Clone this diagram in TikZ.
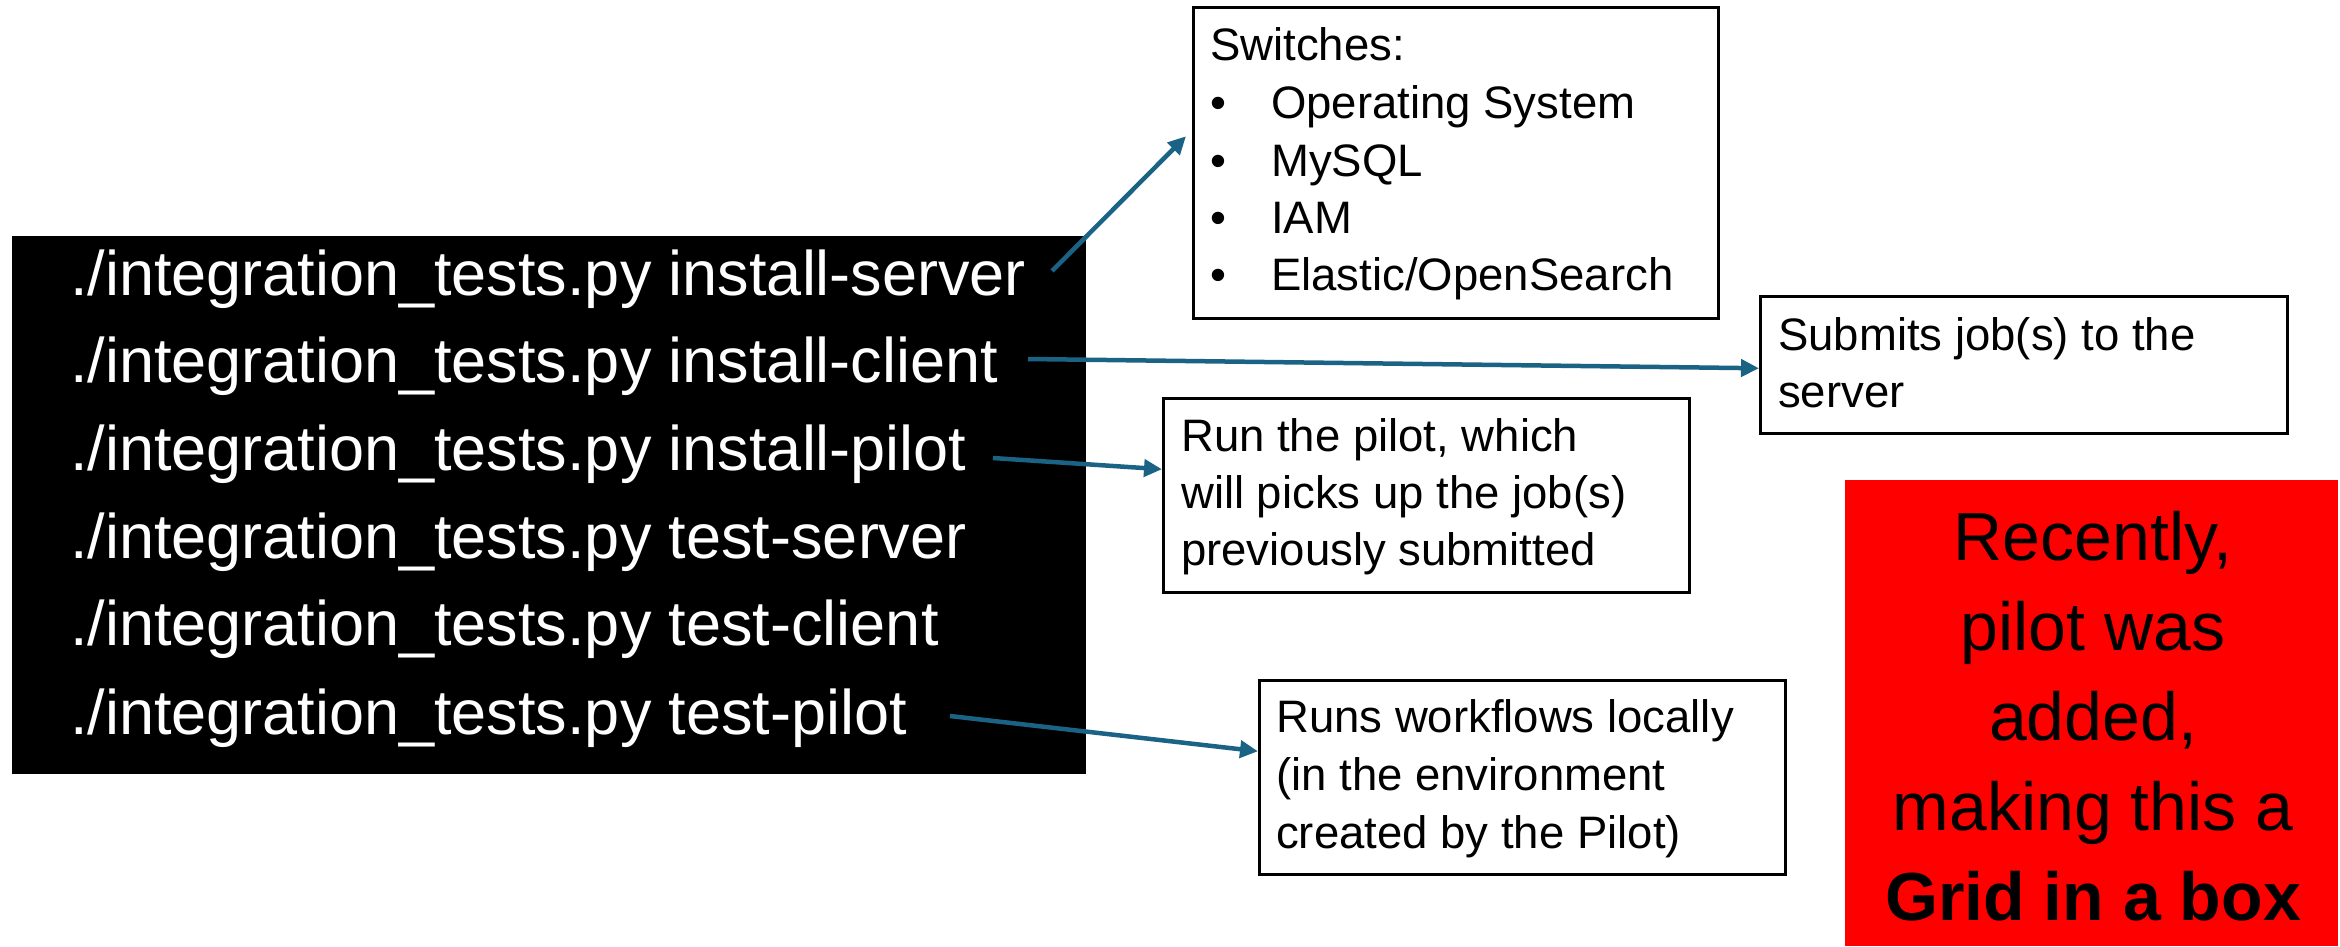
\documentclass[tikz,border=0pt]{standalone}
\usepackage{fontspec}
\setmainfont{Liberation Sans}
\usetikzlibrary{arrows.meta}
\definecolor{arrowblue}{RGB}{26,99,133}
\begin{document}
\begin{tikzpicture}[x=1pt,y=-1pt,
  cmd/.style={text=white,font=\fontsize{63}{70}\selectfont,anchor=base west,inner sep=0pt},
  note/.style={font=\fontsize{45.5}{54}\selectfont,anchor=base west,inner sep=0pt},
  notebox/.style={draw=black,line width=2.5pt,inner sep=0pt,anchor=north west},
  conn/.style={draw=arrowblue,line width=4.5pt,-{Triangle[length=18pt,width=17pt]}},
  big/.style={font=\fontsize{68}{80}\selectfont,anchor=base,inner sep=0pt}]
\useasboundingbox (0,0) rectangle (2340,946);
% command panel
\node[fill=black,inner sep=0pt,minimum width=1074pt,minimum height=538pt,anchor=north west] (cmdbox) at (12,236) {};
\node[cmd] (l1) at (70,295) {./integration\_tests.py install-server};
\node[cmd] (l2) at (70,382) {./integration\_tests.py install-client};
\node[cmd] (l3) at (70,470) {./integration\_tests.py install-pilot};
\node[cmd] (l4) at (70,558) {./integration\_tests.py test-server};
\node[cmd] (l5) at (70,645) {./integration\_tests.py test-client};
\node[cmd] (l6) at (70,734) {./integration\_tests.py test-pilot};
% note boxes
\node[notebox,minimum width=525pt,minimum height=311pt] (sw) at (1192,6) {};
\node[note] (swt) at (1210,60) {Switches:};
\node[note] (b1) at (1210,118) {•};
\node[note] (i1) at (1271,118) {Operating System};
\node[note] (b2) at (1210,176) {•};
\node[note] (i2) at (1271,176) {MySQL};
\node[note] (b3) at (1210,233) {•};
\node[note] (i3) at (1271,233) {IAM};
\node[note] (b4) at (1210,290) {•};
\node[note] (i4) at (1271,290) {Elastic/OpenSearch};

\node[notebox,minimum width=527pt,minimum height=137pt] (sub) at (1759,295) {};
\node[note] (subt1) at (1778,350) {Submits job(s) to the};
\node[note] (subt2) at (1778,407) {server};

\node[notebox,minimum width=526pt,minimum height=194pt] (run) at (1162,397) {};
\node[note] (runt1) at (1181,451) {Run the pilot, which};
\node[note] (runt2) at (1181,508) {will picks up the job(s)};
\node[note] (runt3) at (1181,565) {previously submitted};

\node[notebox,minimum width=526pt,minimum height=194pt] (runs) at (1258,679) {};
\node[note] (runst1) at (1276,732) {Runs workflows locally};
\node[note] (runst2) at (1276,790) {(in the environment};
\node[note] (runst3) at (1276,848) {created by the Pilot)};

% red box
\node[fill=red,inner sep=0pt,minimum width=493pt,minimum height=466pt,anchor=north west] (red) at (1845,480) {};
\node[big] (r1) at (2093,560) {Recently,};
\node[big] (r2) at (2093,650) {pilot was};
\node[big] (r3) at (2093,740) {added,};
\node[big] (r4) at (2093,830) {making this a};
\node[big,font=\fontsize{68}{80}\selectfont\bfseries] (r5) at (2093,920) {Grid in a box};

% connectors
\coordinate (s1) at (1052,271);
\coordinate (s2) at (1028,359);
\coordinate (s3) at (993,458);
\coordinate (s4) at (950,716);
\draw[conn] (s1) -- ([xshift=-6pt,yshift=26.5pt]sw.west);
\draw[conn] (s2) -- ([yshift=-3.5pt]sub.west);
\draw[conn] (s3) -- ([yshift=26pt]run.west);
\draw[conn] (s4) -- ([yshift=26pt]runs.west);
\end{tikzpicture}
\end{document}
